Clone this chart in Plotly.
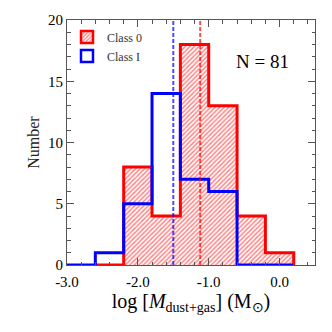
import plotly.graph_objects as go

# ---- data ----
bin_edges_class0 = [-2.6, -2.2, -1.8, -1.4, -1.0, -0.6, -0.2, 0.2]
counts_class0 = [0, 8, 4, 18, 13, 4, 1]
bin_edges_class1 = [-3.0, -2.6, -2.2, -1.8, -1.4, -1.0, -0.6, -0.2, 0.2]
counts_class1 = [0, 1, 5, 14, 7, 6, 0, 0]
median_class0 = -1.12
median_class1 = -1.50
n_total = 81
labels = ["Class 0", "Class I"]

RED = "#ff0000"
BLUE = "#0000ff"
FONT = "Liberation Serif"


def step_xy(edges, counts):
    xs, ys = [edges[0]], [0]
    for i, c in enumerate(counts):
        xs += [edges[i], edges[i + 1]]
        ys += [c, c]
    xs.append(edges[-1])
    ys.append(0)
    return xs, ys


centers0 = [(bin_edges_class0[i] + bin_edges_class0[i + 1]) / 2 for i in range(len(counts_class0))]
widths0 = [bin_edges_class0[i + 1] - bin_edges_class0[i] for i in range(len(counts_class0))]

fig = go.Figure()

# hatched fill of class 0
fig.add_trace(go.Bar(
    x=centers0, y=counts_class0, width=widths0,
    marker=dict(color="white", line=dict(width=0),
                pattern=dict(shape="/", fgcolor=RED, bgcolor="white", size=3.2, solidity=0.45)),
    showlegend=False, hoverinfo="skip",
))

x0, y0 = step_xy(bin_edges_class0, counts_class0)
fig.add_trace(go.Scatter(x=x0, y=y0, mode="lines", line=dict(color=RED, width=3),
                         showlegend=False, hoverinfo="skip"))
x1, y1 = step_xy(bin_edges_class1, counts_class1)
fig.add_trace(go.Scatter(x=x1, y=y1, mode="lines", line=dict(color=BLUE, width=3),
                         showlegend=False, hoverinfo="skip"))

# legend proxies
fig.add_trace(go.Bar(
    x=[None], y=[None], name=labels[0],
    marker=dict(color="white", line=dict(color=RED, width=2.5),
                pattern=dict(shape="/", fgcolor=RED, bgcolor="white", size=3.2, solidity=0.45)),
))
fig.add_trace(go.Bar(
    x=[None], y=[None], name=labels[1],
    marker=dict(color="white", line=dict(color=BLUE, width=2.5)),
))

# median lines
for m, col in [(median_class1, "rgba(0,0,255,0.7)"), (median_class0, "rgba(255,0,0,0.7)")]:
    fig.add_shape(type="line", x0=m, x1=m, y0=0, y1=1, xref="x", yref="paper",
                  line=dict(color=col, width=2, dash="4px,2px"))

fig.add_annotation(x=0.787, y=0.83, xref="paper", yref="paper", xanchor="center", yanchor="middle",
                   text=f"N = {n_total}", showarrow=False,
                   font=dict(family=FONT, size=19, color="black"))

axis_common = dict(
    showline=True, linecolor="#555", linewidth=1, mirror="ticks",
    ticks="inside", tickcolor="#555", ticklen=7, tickwidth=1,
    showgrid=False, zeroline=False,
    tickfont=dict(family=FONT, size=15, color="black"),
)

fig.update_layout(
    width=332, height=332,
    margin=dict(l=67, r=17, t=16, b=67),
    plot_bgcolor="white", paper_bgcolor="white",
    barmode="overlay", bargap=0,
    showlegend=True,
    legend=dict(x=0.0, y=0.99, xanchor="left", yanchor="top", bgcolor="rgba(0,0,0,0)",
                font=dict(family=FONT, size=12, color="#333"), itemwidth=30,
                tracegroupgap=2),
    xaxis=dict(range=[-3.0, 0.5], tickvals=[-3, -2, -1, 0], ticktext=["-3.0", "-2.0", "-1.0", "0.0"],
               minor=dict(ticks="inside", dtick=0.2, tick0=-3, ticklen=3.5, tickcolor="#555"),
               ticklabelstandoff=3,
               title=dict(text="log [<i>M</i><sub>dust+gas</sub>] (M<sub>⊙</sub>)",
                          font=dict(family=FONT, size=20, color="black"), standoff=1),
               **axis_common),
    yaxis=dict(range=[0, 20], tickvals=[0, 5, 10, 15, 20],
               minor=dict(ticks="inside", dtick=1, ticklen=3.5, tickcolor="#555"),
               title=dict(text="Number", font=dict(family=FONT, size=16, color="#222"), standoff=4),
               **axis_common),
)

fig.write_html("out.html", config={"displayModeBar": False},
               post_script="document.body.style.margin='0';")
